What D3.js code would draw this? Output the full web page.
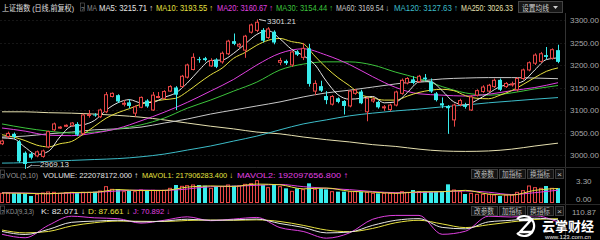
<!DOCTYPE html>
<html>
<head>
<meta charset="utf-8">
<script src="https://cdn.jsdelivr.net/npm/d3@7"></script>
<style>
  body { margin: 0; background: #000; }
  svg { display: block; font-family: "Liberation Sans", "Noto Sans CJK SC", sans-serif; }
</style>
</head>
<body>
<svg id="chart" width="600" height="240"></svg>
<script>
// daily candles (index 0..96)
const opens = [3025,3041,3047,3030,3005,3003,2998,2997,3018,3056,3061,3065,3066,3069,3048,3089,3090,3085,3096,3130,
  3133,3114,3117,3093,3106,3121,3100,3129,3126,3142,3150,3152,3173,3190,3213,3215,3198,3212,3207,3225,
  3253,3242,3233,3273,3277,3278,3261,3274,3206,3209,3200,3230,3217,3237,3142,3153,3131,3113,3126,3120,
  3109,3137,3141,3096,3120,3118,3105,3101,3111,3137,3160,3168,3163,3172,3163,3137,3115,3109,3078,3112,
  3111,3100,3133,3141,3142,3152,3167,3152,3156,3145,3170,3189,3204,3208,3222,3215,3233];
const highs = [3034,3052,3050,3033,3008,3006,3010,3012,3054,3072,3064,3068,3073,3073,3092,3100,3093,3103,3140,3139,
  3135,3122,3124,3110,3130,3124,3140,3140,3144,3155,3153,3178,3203,3226,3218,3218,3215,3215,3230,3256,
  3270,3249,3267,3292,3301.21,3282,3284,3277,3216,3212,3232,3233,3249,3247,3166,3165,3142,3133,3128,3122,
  3144,3147,3145,3128,3128,3121,3111,3114,3143,3170,3173,3175,3178,3180,3170,3140,3128,3111,3114,3125,
  3116,3133,3146,3155,3158,3170,3170,3162,3163,3173,3192,3208,3226,3229,3240,3237,3245];
const lows = [3022,3037,3036,2983,2969.13,2990,2995,2994,3015,3053,3058,3062,3063,3042,3045,3083,3085,3082,3093,3128,
  3116,3108,3104,3085,3104,3105,3098,3126,3124,3140,3100,3150,3170,3188,3205,3208,3196,3193,3203,3222,
  3244,3238,3216,3270,3273,3250,3258,3246,3200,3200,3196,3220,3211,3152,3133,3140,3113,3110,3115,3090,
  3106,3134,3113,3075,3116,3103,3098,3097,3108,3134,3157,3157,3160,3165,3138,3119,3104,3047,3063,3108,
  3103,3098,3130,3138,3139,3149,3142,3149,3152,3141,3167,3186,3200,3205,3212,3212,3204];
const closes = [3031,3048,3040,2986,2980,2994,3007,3009,3052,3069,3062,3066,3071,3045,3089,3090,3089,3100,3134,3137,
  3119,3115,3109,3107,3128,3108,3133,3130,3141,3152,3134,3175,3200,3217,3212,3211,3210,3196,3226,3253,
  3247,3246,3264,3289,3295,3254,3280,3250,3210,3204,3229,3223,3237,3158,3159,3143,3122,3130,3118,3109,
  3142,3144,3115,3126,3124,3106,3107,3111,3140,3166,3170,3160,3175,3168,3141,3122,3110,3104,3111,3121,
  3107,3129,3143,3151,3155,3166,3145,3159,3158,3170,3189,3205,3222,3225,3218,3234,3207];
// volume, 1e8 shares
const volumes = [1.45,1.5,1.45,1.5,1.4,1.05,1.3,1.5,1.65,1.6,1.45,1.55,1.6,1.55,1.6,1.6,1.7,1.8,2.45,2.05,
  2.1,1.7,1.85,1.7,1.95,1.85,1.9,1.85,1.9,2.2,2.7,2.5,2.6,2.7,2.7,2.6,2.2,2.5,2.45,2.7,
  2.6,2.55,2.8,2.9,3.35,2.7,2.3,2.85,2.45,2.2,1.75,2.2,2.0,2.95,2.05,2.2,2.05,1.7,1.7,1.7,
  1.7,1.7,1.7,1.6,1.45,1.45,1.45,1.45,1.45,1.7,1.6,1.95,1.7,1.7,1.7,1.7,1.7,2.8,1.95,1.7,
  1.35,1.45,1.3,1.3,1.3,1.2,1.05,1.2,1.2,1.6,1.85,2.55,2.3,2.2,2.55,2.2,2.22];

// moving averages: ma5/ma10 every 2nd session, the rest every 4th
const ma5 = [3038,3036,3017,3001,3008,3040,3064,3067,3077,3100,3116,3123,3116,3117,3128,3138,3160,3188,3210,3211,
  3226,3247,3268,3276,3258,3235,3221,3201,3164,3134,3124,3126,3130,3116,3118,3139,3162,3163,3143,3118,
  3111,3122,3137,3152,3157,3164,3189,3212,3215.71];
const ma10 = [3045,3040,3032,3022,3018,3025,3030,3046,3064,3082,3094,3103,3113,3119,3123,3126,3141,3160,3178,3193,
  3215,3228,3244,3255,3259,3252,3247,3220,3194,3172,3154,3134,3127,3122,3122,3131,3139,3144,3146,3143,
  3132,3126,3125,3133,3143,3157,3172,3186,3193.55];
const ma20 = [3060,3053,3044,3043,3049,3059,3076,3095,3117,3142,3168,3200,3226,3236,3222,3201,3174,3150,3136,3133,
  3131,3135,3143,3150,3160.67];
const ma30 = [3069,3060,3053,3049,3051,3058,3067,3082,3104,3122,3142,3162,3189,3202,3207,3207,3200,3184,3170,3152,
  3138,3133,3138,3147,3154.44];
const ma60 = [3040,3042,3047,3051,3056,3058,3062,3071,3080,3091,3100,3109,3118,3129,3138,3144,3151,3158,3164,3169,
  3171,3172,3172,3171,3169.54];
const ma120 = [2982,2983,2986,2988,2990,2992,2996,3002,3011,3020,3031,3042,3056,3069,3078,3087,3093,3098,3102,3107,
  3111,3116,3120,3124,3127.63];
const ma250 = [3096,3096,3094,3093,3091,3088,3084,3078,3071,3064,3058,3051,3047,3040,3034,3029,3023,3019,3013,3009,
  3008,3009,3013,3020,3026.33];

const mavol1 = [1.5,1.46,1.38,1.57,1.61,2.02,1.86,1.89,2.38,2.56,2.49,2.84,2.73,2.12,2.25,1.77,1.63,1.45,1.68,1.7,
  1.9,1.34,1.19,1.9,2.18];
const mavol2 = [1.55,1.5,1.42,1.48,1.6,1.8,1.95,1.88,2.1,2.45,2.52,2.65,2.78,2.45,2.2,2.0,1.72,1.55,1.57,1.7,
  1.8,1.62,1.27,1.55,1.92];

const kValues = [25,10,35,70,76,80,72,76,85,80,82,86,64,45,18,22,55,80,88,45,38,72,80,90,82.071];
const dValues = [32,18,25,52,68,76,75,74,79,81,80,82,74,55,32,24,40,68,80,62,44,58,72,84,87.661];
const jValues = [11,-6,55,100,92,88,66,80,97,78,86,94,44,25,-8,18,85,104,104,11,26,100,96,102,70.892];

const priceTicks = [3000, 3050, 3100, 3150, 3200, 3250, 3300];
const volTicks = [0, 3.3];
const kdjTop = 110.87;

const maNames = ["MA5", "MA10", "MA20", "MA30", "MA60", "MA120", "MA250"];
const maLast = [3215.71, 3193.55, 3160.67, 3154.44, 3169.54, 3127.63, 3026.33];
const maTrend = ["↑", "↑", "↑", "↑", "↓", "↑", ""];
const volNames = ["VOLUME", "MAVOL1", "MAVOL2"];
const volLast = [222078172.0, 217906283.4, 192097656.8];
const volTrend = ["↑", "↓", "↑"];
const kdjNames = ["K", "D", "J"];
const kdjLast = [82.071, 87.661, 70.892];
const kdjTrend = ["↓", "↓", "↓"];

const RED = "#e84646", CYAN = "#38ecec";
const maColors = ["#e6e6e6", "#e6e040", "#e040e0", "#3cc43c", "#c8c8c8", "#3cbcc8", "#e6e0b0"];
const volColors = ["#e6e6e6", "#e6e040", "#e040e0"];

const svg = d3.select("#chart");
svg.append("rect").attr("width", 600).attr("height", 240).attr("fill", "#000");

const x = d3.scaleLinear().domain([0, 96]).range([2, 558]);
const px = i => Math.round(x(i));
const yPrice = d3.scaleLinear().domain([3000, 3300]).range([155, 20]);
const yVol = d3.scaleLinear().domain([0, 3.3]).range([203, 181]);
const yKdj = d3.scaleLinear().domain([-12.09, kdjTop]).range([239, 214]);

const idx2 = d3.range(0, 97, 2);
const idx4 = d3.range(0, 97, 4);

// faint grid
svg.append("g").selectAll("line").data(priceTicks).join("line")
  .attr("x1", 0).attr("x2", 565)
  .attr("y1", d => Math.round(yPrice(d)) + 0.5).attr("y2", d => Math.round(yPrice(d)) + 0.5)
  .attr("stroke", "#161616").attr("stroke-dasharray", "2,2");

// panel separators
svg.append("line").attr("x1", 565.5).attr("x2", 565.5).attr("y1", 13).attr("y2", 240).attr("stroke", "#333");
[167.5, 204.5].forEach(y => svg.append("line").attr("x1", 0).attr("x2", 600)
  .attr("y1", y).attr("y2", y).attr("stroke", "#2a2a2a"));

// price axis
svg.append("g").selectAll("text").data(priceTicks).join("text")
  .attr("x", 570).attr("y", d => yPrice(d) + 3)
  .attr("font-size", 8).attr("fill", "#a8a8a8")
  .text(d => d3.format(".2f")(d));

// MA lines
function drawLine(idx, vals, yScale, color) {
  const line = d3.line()
    .x((d, k) => x(idx[k]))
    .y(d => yScale(d))
    .curve(d3.curveMonotoneX);
  svg.append("path").datum(vals).attr("d", line)
    .attr("fill", "none").attr("stroke", color).attr("stroke-width", 1);
}
drawLine(idx4, ma250, yPrice, maColors[6]);
drawLine(idx4, ma120, yPrice, maColors[5]);
drawLine(idx4, ma60, yPrice, maColors[4]);
drawLine(idx4, ma30, yPrice, maColors[3]);
drawLine(idx4, ma20, yPrice, maColors[2]);
drawLine(idx2, ma10, yPrice, maColors[1]);
drawLine(idx2, ma5, yPrice, maColors[0]);

// candles
const candles = opens.map((o, i) => ({ i, o, h: highs[i], l: lows[i], c: closes[i], v: volumes[i] }));
const isUp = d => d.c >= d.o;
const cg = svg.append("g");
cg.selectAll("line").data(candles).join("line")
  .attr("x1", d => px(d.i) + 0.5).attr("x2", d => px(d.i) + 0.5)
  .attr("y1", d => yPrice(d.h)).attr("y2", d => yPrice(d.l))
  .attr("stroke", d => isUp(d) ? RED : CYAN);
cg.selectAll("rect").data(candles).join("rect")
  .attr("x", d => isUp(d) ? px(d.i) - 1.5 : px(d.i) - 2)
  .attr("width", d => isUp(d) ? 3 : 4)
  .attr("y", d => yPrice(Math.max(d.o, d.c)))
  .attr("height", d => Math.max(1, Math.abs(yPrice(d.o) - yPrice(d.c))))
  .attr("fill", d => isUp(d) ? "#000" : CYAN)
  .attr("stroke", d => isUp(d) ? RED : "none");

// high / low marks
const hi = d3.maxIndex(highs), lo = d3.minIndex(lows);
svg.append("line").attr("x1", px(hi) + 2).attr("y1", yPrice(highs[hi]))
  .attr("x2", px(hi) + 9).attr("y2", yPrice(highs[hi]) + 1.5).attr("stroke", "#ccc");
svg.append("text").attr("x", px(hi) + 10).attr("y", yPrice(highs[hi]) + 4.5)
  .attr("font-size", 8).attr("fill", "#ddd").text(highs[hi].toFixed(2));
svg.append("line").attr("x1", px(lo) + 2).attr("y1", yPrice(lows[lo]) - 1)
  .attr("x2", px(lo) + 7).attr("y2", yPrice(lows[lo]) - 4).attr("stroke", "#ccc");
svg.append("text").attr("x", px(lo) + 7).attr("y", yPrice(lows[lo]) - 1.5)
  .attr("font-size", 8).attr("fill", "#ddd").text("—" + lows[lo].toFixed(2));

// volume bars
const vg = svg.append("g");
vg.selectAll("rect").data(candles).join("rect")
  .attr("x", d => isUp(d) ? px(d.i) - 1.5 : px(d.i) - 2)
  .attr("width", d => isUp(d) ? 3 : 4)
  .attr("y", d => yVol(d.v))
  .attr("height", d => yVol(0) - yVol(d.v) - (isUp(d) ? 0.5 : 0))
  .attr("fill", d => isUp(d) ? "#000" : CYAN)
  .attr("stroke", d => isUp(d) ? RED : "none");
drawLine(idx4, mavol2, yVol, volColors[2]);
drawLine(idx4, mavol1, yVol, volColors[1]);

svg.append("g").selectAll("text").data(volTicks).join("text")
  .attr("x", 576).attr("y", (d, k) => k === 0 ? yVol(d) - 1 : yVol(d) + 3)
  .attr("font-size", 8).attr("fill", "#a8a8a8")
  .text(d => d.toFixed(2));

// KDJ
drawLine(idx4, dValues, yKdj, volColors[1]);
drawLine(idx4, jValues, yKdj, volColors[2]);
drawLine(idx4, kValues, yKdj, volColors[0]);
svg.append("text").attr("x", 572).attr("y", yKdj(kdjTop) + 1)
  .attr("font-size", 8).attr("fill", "#a8a8a8").text(kdjTop.toFixed(2));

// headers
function label(x0, y0, w, txt, color, size) {
  svg.append("text").attr("x", x0).attr("y", y0).attr("font-size", size || 8.5)
    .attr("fill", color).attr("textLength", w).attr("lengthAdjust", "spacingAndGlyphs").text(txt);
}
function qmark(x0, y0) {
  svg.append("rect").attr("x", x0 + 0.5).attr("y", y0 - 7.5).attr("width", 4).attr("height", 8)
    .attr("fill", "none").attr("stroke", "#666").attr("stroke-width", 0.6);
  svg.append("text").attr("x", x0 + 1).attr("y", y0).attr("font-size", 6).attr("fill", "#999").text("?");
}

label(2, 10.5, 72, "上证指数 (日线,前复权)", "#e0e0e0", 8);
qmark(80, 10.5);
label(87, 10.5, 10, "MA", "#888");
const maX = [99, 156, 217, 276, 336, 394, 461];
const maW = [54, 57, 56, 57, 53, 64, 52];
maNames.forEach((n, k) => label(maX[k], 10.5, maW[k],
  n + ": " + maLast[k].toFixed(2) + (maTrend[k] ? " " + maTrend[k] : ""), maColors[k]));

svg.append("rect").attr("x", 518.5).attr("y", 1.5).attr("width", 44).attr("height", 11)
  .attr("fill", "#161616").attr("stroke", "#444");
label(522, 10.5, 27, "设置均线", "#cfcfcf", 8);
svg.append("path").attr("d", "M553,6 L558,6 L555.5,9 Z").attr("fill", "#cfcfcf");

qmark(0, 177.5);
label(6, 177.5, 32, "VOL(5,10)", "#9a9a9a", 8);
const volHX = [43, 142, 237], volHW = [95, 91, 111];
volNames.forEach((n, k) => label(volHX[k], 177.5, volHW[k],
  n + ": " + volLast[k].toFixed(3) + " " + volTrend[k], volColors[k], 8));

qmark(0, 213.5);
label(6, 213.5, 28, "KDJ(9,3,3)", "#9a9a9a", 8);
const kdjHX = [41, 88, 133], kdjHW = [44, 42, 37];
kdjNames.forEach((n, k) => label(kdjHX[k], 213.5, kdjHW[k],
  n + ": " + kdjLast[k].toFixed(3) + " " + kdjTrend[k], volColors[k], 8));

// panel buttons
const btnNames = ["改参数", "加指标", "换指标"];
const btnX = [471, 499, 527];
[169, 206].forEach(by => {
  btnNames.forEach((b, k) => {
    svg.append("rect").attr("x", btnX[k] + 0.5).attr("y", by + 0.5).attr("width", 26).attr("height", 9)
      .attr("fill", "#141414").attr("stroke", "#3c3c3c");
    label(btnX[k] + 3, by + 8, 20, b, "#bdbdbd", 7.5);
  });
  svg.append("rect").attr("x", 555.5).attr("y", by + 0.5).attr("width", 8).attr("height", 9)
    .attr("fill", "#141414").attr("stroke", "#3c3c3c");
  label(557, by + 8, 5, "×", "#bdbdbd", 8);
});

// watermark
const wm = svg.append("g");
wm.append("path").attr("d", "M517,219 A10,10 0 1,1 517,233")
  .attr("fill", "none").attr("stroke", "#fff").attr("stroke-width", 2.2);
wm.append("path").attr("d", "M519,220 L531,220 L520,232 L533,232")
  .attr("fill", "none").attr("stroke", "#fff").attr("stroke-width", 2.4);
wm.append("text").attr("x", 542).attr("y", 231).attr("font-size", 13).attr("font-weight", "bold")
  .attr("font-family", "Noto Sans CJK SC").attr("fill", "#fff")
  .attr("textLength", 52).attr("lengthAdjust", "spacingAndGlyphs").text("云掌财经");
wm.append("text").attr("x", 545).attr("y", 238.5).attr("font-size", 6).attr("fill", "#eee")
  .attr("textLength", 46).attr("lengthAdjust", "spacingAndGlyphs").text("www.123.com.cn");
</script>
</body>
</html>
